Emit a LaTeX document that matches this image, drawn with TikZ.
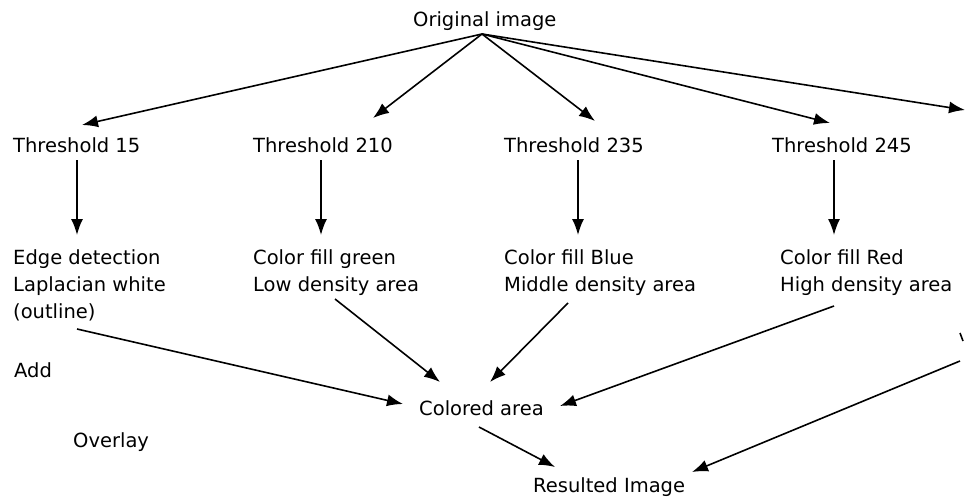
\documentclass[tikz,border=0pt]{standalone}
\usepackage{fontspec}
\setmainfont{DejaVu Sans}
\usetikzlibrary{arrows.meta}
\begin{document}
\begin{tikzpicture}[x=1pt,y=-1pt,
  lbl/.style={anchor=base west, inner sep=0pt, align=left,
    font=\fontsize{19.5}{27}\selectfont},
  arr/.style={-{Latex[length=16pt,width=12pt]}, line width=1.6pt}]
\useasboundingbox (0,0) rectangle (966,500);

% text blocks (multi-line blocks are placed by the baseline of their last line)
\node[lbl] (orig) at (413,27) {Original image};
\node[lbl] (t15)  at (13,153)  {Threshold 15};
\node[lbl] (t210) at (253,153) {Threshold 210};
\node[lbl] (t235) at (504,153) {Threshold 235};
\node[lbl] (t245) at (772,153) {Threshold 245};
\node[lbl] (e15)  at (13,318)  {Edge detection\\Laplacian white\\(outline)};
\node[lbl] (e210) at (253,291) {Color fill green\\Low density area};
\node[lbl] (e235) at (504,291) {Color fill Blue\\Middle density area};
\node[lbl] (e245) at (780,291) {Color fill Red\\High density area};
\node[lbl] (add)  at (14,377)  {Add};
\node[lbl] (ovl)  at (73,447)  {Overlay};
\node[lbl] (col)  at (419,415) {Colored area};
\node[lbl] (res)  at (533,492) {Resulted Image};

% loose ends running off the right side
\coordinate (offR)  at (965,110);
\coordinate (fromR) at (960,361);

% fan-out from the original image
\draw[arr] ([shift={(69,7)}]orig.base west) -- ([shift={(69,-28)}]t15.base west);
\draw[arr] ([shift={(69,7)}]orig.base west) -- ([shift={(120,-35)}]t210.base west);
\draw[arr] ([shift={(69,7)}]orig.base west) -- ([shift={(91,-32)}]t235.base west);
\draw[arr] ([shift={(69,7)}]orig.base west) -- ([shift={(58,-30)}]t245.base west);
\draw[arr] ([shift={(69,7)}]orig.base west) -- (offR);

% threshold -> processing step
\draw[arr] ([shift={(64,7)}]t15.base west)  -- ([shift={(64,-83)}]e15.base west);
\draw[arr] ([shift={(68,7)}]t210.base west) -- ([shift={(68,-56)}]e210.base west);
\draw[arr] ([shift={(74,7)}]t235.base west) -- ([shift={(74,-56)}]e235.base west);
\draw[arr] ([shift={(62,7)}]t245.base west) -- ([shift={(54,-56)}]e245.base west);

% merge into the colored area
\draw[arr] ([shift={(64,11)}]e15.base west)  -- ([shift={(-16,-11)}]col.base west);
\draw[arr] ([shift={(82,8)}]e210.base west)  -- ([shift={(21,-33)}]col.base west);
\draw[arr] ([shift={(64,12)}]e235.base west) -- ([shift={(71,-33)}]col.base west);
\draw[arr] ([shift={(54,15)}]e245.base west) -- ([shift={(141,-9)}]col.base west);

% final result
\draw[arr] ([shift={(60,12)}]col.base west) -- ([shift={(22,-25)}]res.base west);
\draw[arr] (fromR) -- ([shift={(159,-20)}]res.base west);

% small clipped mark at the right edge
\draw[line width=1.6pt] (960,333) -- (963,341);
\end{tikzpicture}
\end{document}
